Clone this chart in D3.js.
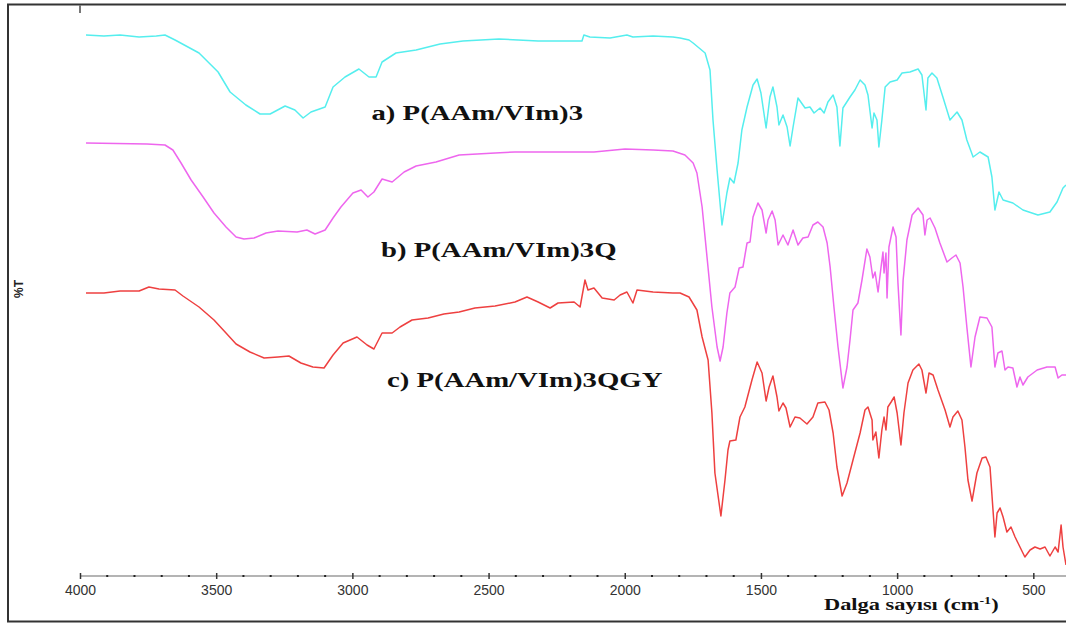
<!DOCTYPE html>
<html>
<head>
<meta charset="utf-8">
<script src="https://cdn.jsdelivr.net/npm/d3@7"></script>
<style>
	body { margin: 0; background: #fff; }
	svg { display: block; }
</style>
</head>
<body>
<div id="graph"></div>
<script>
const params = {
		width: 1066,
		height: 624,
		axis_y: 576,
		left: 80,
		right: 1066,
		top: 6,
		stroke_width: 1.5
	},
	root_graph = d3.select('#graph');

// FTIR spectra, [wavenumber cm-1, %T (offset, arbitrary units)]
const spectrumA = [[3978,54.1],[3912,54.0],[3853,54.1],[3783,53.9],[3720,54.0],[3688,54.1],[3651,53.6],[3563,52.3],[3493,50.4],[3449,48.4],[3391,47.1],[3339,46.2],[3302,46.2],[3247,47.0],[3211,46.6],[3181,45.8],[3152,46.4],[3100,46.9],[3071,48.9],[3027,49.9],[2976,50.7],[2939,49.9],[2913,49.9],[2891,51.4],[2840,52.3],[2766,52.6],[2678,53.2],[2594,53.5],[2462,53.7],[2318,53.5],[2157,53.5],[2150,54.1],[2128,53.9],[2054,53.8],[1992,54.1],[1970,53.9],[1896,54.0],[1823,53.9],[1797,53.8],[1764,53.6],[1749,53.3],[1705,52.3],[1687,50.6],[1676,45.6],[1661,40.6],[1643,35.1],[1625,38.3],[1614,39.8],[1599,39.3],[1584,41.3],[1570,44.6],[1551,46.9],[1529,49.1],[1514,49.7],[1500,48.3],[1481,44.8],[1467,47.9],[1456,48.9],[1441,46.9],[1434,45.1],[1419,46.1],[1404,44.9],[1393,43.0],[1382,44.9],[1364,47.8],[1338,46.8],[1320,46.9],[1305,46.3],[1283,46.8],[1268,46.3],[1254,47.4],[1235,48.1],[1221,46.9],[1210,43.0],[1199,46.8],[1173,47.9],[1155,48.6],[1136,49.6],[1118,49.1],[1107,48.1],[1092,44.8],[1085,46.3],[1074,45.6],[1067,42.9],[1056,45.6],[1044,48.9],[1026,49.4],[1000,49.6],[982,50.3],[953,50.4],[923,50.7],[909,50.1],[894,46.6],[887,49.8],[872,50.3],[854,49.8],[832,47.9],[806,45.6],[780,46.4],[762,45.6],[744,43.6],[721,41.9],[696,42.4],[666,41.9],[652,39.9],[641,36.6],[626,38.4],[611,37.6],[575,37.3],[538,36.6],[483,36.1],[439,36.4],[413,37.4],[391,38.8],[380,39.1]];

const spectrumB = [[3978,43.3],[3754,43.2],[3688,43.1],[3659,42.6],[3629,41.3],[3592,39.6],[3548,37.9],[3508,36.3],[3464,34.9],[3427,33.9],[3398,33.7],[3361,33.8],[3317,34.3],[3273,34.5],[3203,34.4],[3167,34.6],[3137,34.2],[3100,34.6],[3071,35.8],[3042,36.9],[2998,38.3],[2968,38.6],[2943,37.9],[2921,38.4],[2891,39.7],[2854,39.4],[2810,40.4],[2766,41.0],[2693,41.4],[2608,42.1],[2476,42.3],[2403,42.4],[2260,42.4],[2113,42.4],[1999,42.7],[1896,42.6],[1823,42.5],[1779,42.1],[1749,41.3],[1735,40.3],[1716,36.9],[1698,31.9],[1680,26.9],[1661,22.9],[1650,21.5],[1639,22.9],[1625,26.3],[1614,28.3],[1595,28.9],[1580,30.8],[1566,30.9],[1551,33.3],[1540,33.4],[1529,35.9],[1511,37.3],[1496,36.6],[1481,34.3],[1474,35.6],[1459,36.5],[1448,35.6],[1437,33.1],[1419,34.1],[1401,33.1],[1382,34.6],[1364,33.1],[1346,33.8],[1327,33.9],[1309,35.1],[1291,35.4],[1272,34.9],[1257,33.3],[1246,30.9],[1232,26.9],[1217,22.9],[1199,18.8],[1184,20.9],[1173,23.6],[1162,26.6],[1144,27.3],[1129,29.6],[1111,32.7],[1100,31.9],[1089,29.8],[1081,30.4],[1070,28.4],[1059,30.9],[1052,32.4],[1048,30.3],[1041,32.3],[1037,27.8],[1030,32.9],[1015,34.9],[1004,33.9],[997,29.3],[986,24.1],[978,29.6],[964,33.6],[945,36.1],[923,36.8],[905,36.1],[898,34.1],[890,35.6],[879,35.8],[861,34.8],[843,33.3],[817,31.4],[799,31.8],[784,32.1],[769,31.3],[758,28.9],[744,24.9],[729,20.9],[714,23.9],[696,25.9],[670,25.8],[652,24.9],[641,20.9],[630,22.3],[615,22.5],[604,20.6],[593,20.9],[575,20.8],[560,18.9],[549,19.9],[538,19.1],[520,19.9],[486,20.6],[450,20.9],[420,20.9],[409,19.8],[395,20.1],[380,20.1]];

const spectrumC = [[3978,28.3],[3912,28.3],[3853,28.5],[3783,28.5],[3747,28.9],[3710,28.7],[3651,28.6],[3622,28.0],[3563,26.9],[3508,25.6],[3464,24.3],[3427,23.2],[3376,22.4],[3324,21.8],[3273,21.9],[3233,22.0],[3189,21.3],[3145,20.9],[3104,20.8],[3071,22.1],[3034,23.3],[2983,23.9],[2946,23.1],[2921,22.7],[2891,24.3],[2854,24.3],[2825,24.9],[2781,25.6],[2722,25.8],[2664,26.2],[2608,26.4],[2550,26.8],[2476,27.0],[2403,27.4],[2359,27.9],[2318,27.4],[2274,26.8],[2245,27.3],[2186,27.4],[2164,26.9],[2146,29.6],[2135,28.6],[2113,28.8],[2083,27.8],[2039,27.6],[2017,28.1],[1992,28.4],[1970,27.3],[1955,28.6],[1896,28.4],[1823,28.3],[1797,28.3],[1764,27.9],[1735,26.6],[1716,23.9],[1694,21.6],[1680,16.3],[1669,10.3],[1647,6.0],[1632,9.6],[1621,12.6],[1614,13.5],[1592,13.6],[1577,15.9],[1559,16.9],[1533,19.6],[1514,21.4],[1496,20.3],[1481,17.5],[1470,18.9],[1456,20.0],[1441,17.9],[1434,16.5],[1419,17.3],[1408,16.8],[1393,14.9],[1375,15.9],[1357,15.8],[1331,15.2],[1309,15.9],[1291,17.3],[1265,17.4],[1250,16.6],[1235,14.3],[1221,10.9],[1202,8.0],[1184,9.3],[1162,11.6],[1136,14.3],[1118,16.6],[1107,16.9],[1092,15.6],[1089,13.6],[1078,14.4],[1067,11.8],[1056,14.6],[1048,15.9],[1041,14.6],[1034,16.9],[1022,17.4],[1011,17.9],[1000,16.3],[986,13.1],[975,16.3],[960,19.3],[942,20.6],[920,21.2],[909,20.6],[894,18.3],[883,20.3],[868,20.1],[850,18.6],[824,16.6],[806,14.9],[795,15.9],[777,16.5],[762,15.6],[751,12.9],[740,9.6],[725,7.5],[707,10.3],[688,11.8],[674,11.9],[659,10.9],[648,6.6],[641,3.9],[633,6.3],[622,6.8],[611,5.9],[597,4.4],[582,4.9],[567,3.9],[549,2.9],[531,1.9],[512,2.6],[494,2.9],[475,2.7],[457,2.9],[439,2.0],[420,2.9],[409,2.4],[398,5.1],[391,2.9],[380,1.1]];

const seriesNames = ["a) P(AAm/VIm)3", "b) P(AAm/VIm)3Q", "c) P(AAm/VIm)3QGY"];
const seriesColors = ["#55eeee", "#ee66ee", "#ee4040"];
const majorTicks = [4000, 3500, 3000, 2500, 2000, 1500, 1000, 500];
const xTitle = "Dalga sayısı (cm";
const yTitle = "%T";

// scalers for wavenumber and transmittance
const x = d3.scaleLinear().domain([4000, 380]).range([params.left, params.right]),
	y = d3.scaleLinear().domain([0, 57]).range([params.axis_y, params.top]);

const svg = root_graph.append("svg")
	.attr("width", params.width)
	.attr("height", params.height)
	.style("font-family", "'Liberation Sans', Arial, sans-serif");

// outer frame (right edge is cut off in the picture)
svg.append("rect")
	.attr("x", 8)
	.attr("y", 4.5)
	.attr("width", 1100)
	.attr("height", 617)
	.attr("fill", "none")
	.attr("stroke", "#333")
	.attr("stroke-width", 2);

// little mark at top of the (hidden) y axis
svg.append("line")
	.attr("x1", x(4000)).attr("x2", x(4000))
	.attr("y1", 5).attr("y2", 13)
	.attr("stroke", "#777")
	.attr("stroke-width", 2);

// x axis
const axis = svg.append("g")
	.attr("transform", `translate(0,${params.axis_y})`)
	.call(d3.axisBottom(x).tickValues(majorTicks).tickSize(3).tickFormat(d3.format("d")));

axis.select(".domain")
	.attr("d", `M${x(4000)},0H${params.right}`)
	.attr("stroke", "#b4b4b4")
	.attr("stroke-width", 2);

axis.selectAll(".tick line")
	.attr("y1", -3)
	.attr("y2", 3)
	.attr("stroke", "#333")
	.attr("stroke-width", 1.5);

axis.selectAll(".tick text")
	.attr("y", 19)
	.attr("dy", 0)
	.attr("fill", "#333")
	.style("font-size", "14px")
	.style("font-family", "'Liberation Sans', Arial, sans-serif");

// minor ticks every 100 cm-1, drawn as dots
const minorTicks = d3.range(4000, 400, -100).filter(d => d % 500 !== 0);
axis.selectAll(".minor")
	.data(minorTicks)
	.join("rect")
	.attr("class", "minor")
	.attr("x", d => x(d) - 1)
	.attr("y", -1)
	.attr("width", 2)
	.attr("height", 2)
	.attr("fill", "#222");

// spectra
const line = d3.line()
	.x(d => x(d[0]))
	.y(d => y(d[1]));

[spectrumA, spectrumB, spectrumC].forEach((data, i) => {
	svg.append("path")
		.datum(data)
		.attr("d", line)
		.attr("fill", "none")
		.attr("stroke", seriesColors[i])
		.attr("stroke-width", params.stroke_width)
		.attr("stroke-linejoin", "round");
});

// series labels, stretched wide like the source figure
const labelPos = [
	{x: 2930, y: 120},
	{x: 2895, y: 257},
	{x: 2873, y: 387}
];
seriesNames.forEach((name, i) => {
	svg.append("text")
		.attr("transform", `translate(${x(labelPos[i].x)},${labelPos[i].y}) scale(1.37,1)`)
		.attr("fill", "#111")
		.style("font-family", "'Liberation Serif', 'Times New Roman', serif")
		.style("font-weight", "bold")
		.style("font-size", "21px")
		.text(name);
});

// axis title with superscript
const title = svg.append("text")
	.attr("transform", `translate(824,610) scale(1.4,1)`)
	.attr("fill", "#111")
	.style("font-family", "'Liberation Serif', 'Times New Roman', serif")
	.style("font-weight", "bold")
	.style("font-size", "16px");
title.append("tspan").text(xTitle);
title.append("tspan").attr("dy", -6).style("font-size", "10px").text("-1");
title.append("tspan").attr("dy", 6).text(")");

// y label
svg.append("text")
	.attr("transform", "translate(23,289) rotate(-90)")
	.attr("text-anchor", "middle")
	.attr("fill", "#222")
	.style("font-size", "12px")
	.style("font-weight", "bold")
	.text(yTitle);
</script>
</body>
</html>
